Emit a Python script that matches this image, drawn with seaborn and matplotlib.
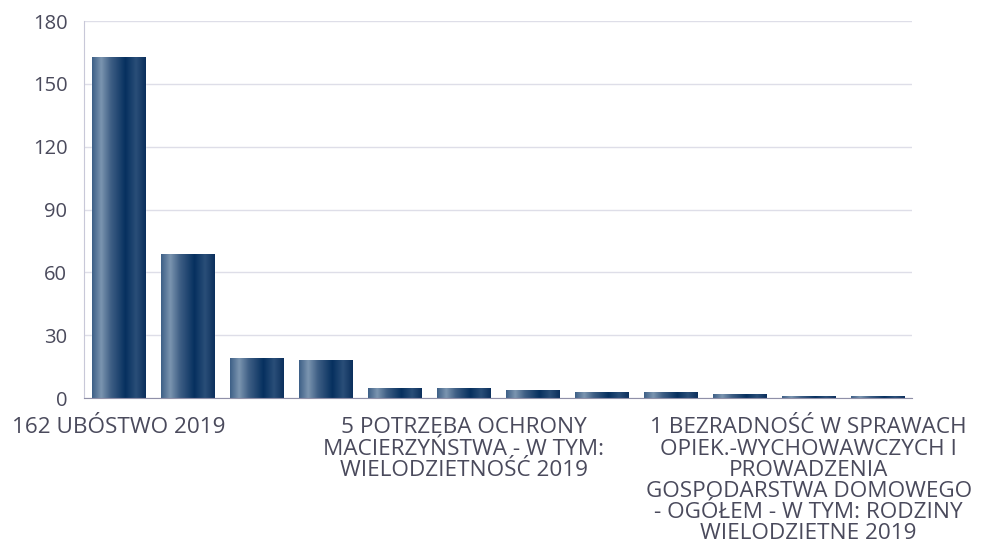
import numpy as np
import pandas as pd
import seaborn as sns
import matplotlib.pyplot as plt
from matplotlib.colors import LinearSegmentedColormap

# Values (12 categories, only every 5th label is visible)
categories = [f"kat_{i}" for i in range(12)]
values = [163, 69, 19, 18, 5, 5, 4, 3, 3, 2, 1, 1]
tick_labels = {
    0: "162 UBÓSTWO 2019",
    5: "5 POTRZEBA OCHRONY\nMACIERZYŃSTWA - W TYM:\nWIELODZIETNOŚĆ 2019",
    10: "1 BEZRADNOŚĆ W SPRAWACH\nOPIEK.-WYCHOWAWCZYCH I\nPROWADZENIA\nGOSPODARSTWA DOMOWEGO\n- OGÓŁEM - W TYM: RODZINY\nWIELODZIETNE 2019",
}
y_ticks = [0, 30, 60, 90, 120, 150, 180]

df = pd.DataFrame({"kategoria": categories, "wartosc": values})

sns.set_style("white")
plt.rcParams['font.family'] = ['Open Sans', 'DejaVu Sans']
text_color = '#4a4a5c'

fig = plt.figure(figsize=(9.86, 5.43), dpi=100)
ax = fig.add_axes([0.0852, 0.267, 0.840, 0.694])

sns.barplot(data=df, x='kategoria', y='wartosc', order=categories,
            color='#0a2f5e', width=0.77, ax=ax, zorder=3)

# horizontal metallic gradient inside each bar
grad = LinearSegmentedColormap.from_list('bar_grad', [
    (0.00, '#3d5f86'), (0.17, '#7b95b0'), (0.35, '#3f5f85'),
    (0.62, '#06305f'), (0.82, '#2a4e78'), (1.00, '#0b2f5c')])
strip = np.linspace(0, 1, 256).reshape(1, -1)
for p in ax.patches:
    x0, y0 = p.get_x(), p.get_y()
    w, h = p.get_width(), p.get_height()
    im = ax.imshow(strip, cmap=grad, aspect='auto', extent=(x0, x0 + w, y0, y0 + h),
                   zorder=4, interpolation='bilinear')
    im.set_clip_path(p)

ax.set_xlim(-0.5, len(categories) - 0.5)
ax.set_ylim(0, 180)
ax.set_yticks(y_ticks)
ax.set_yticklabels([str(t) for t in y_ticks], fontsize=14.5, color=text_color)
ax.yaxis.grid(True, color='#dedee8', linewidth=1, zorder=0)
ax.set_axisbelow(True)

pos = sorted(tick_labels)
ax.set_xticks(pos)
ax.set_xticklabels([tick_labels[i] for i in pos], fontsize=16.2, color=text_color,
                   ha='center', linespacing=1.01)
ax.tick_params(axis='x', length=0, pad=14)
ax.tick_params(axis='y', length=0, pad=12)
ax.set_xlabel('')
ax.set_ylabel('')

for s in ['top', 'right']:
    ax.spines[s].set_visible(False)
ax.spines['left'].set_color('#c8c8d8')
ax.spines['bottom'].set_color('#9090a8')
ax.spines['bottom'].set_zorder(5)

fig.savefig('out.png', dpi=100)
